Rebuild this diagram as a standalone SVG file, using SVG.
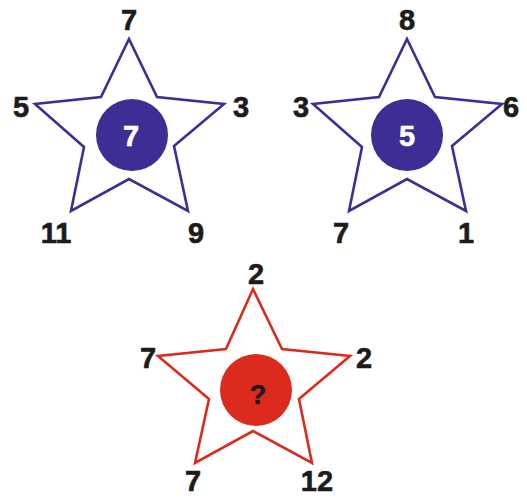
<svg xmlns="http://www.w3.org/2000/svg" width="527" height="498" viewBox="0 0 527 498">
<style>
.star{fill:#fff;stroke-width:2.6;stroke-linejoin:miter}
.blue{stroke:#3d2e96}
.red{stroke:#dc2b1d}
.lbl{font-family:"Liberation Sans",Arial,sans-serif;font-weight:bold;font-size:29px;fill:#1c1c1c;stroke:#1c1c1c;stroke-width:0.6;text-anchor:middle}
.in{fill:#fff;stroke:#fff}
</style>
<rect width="527" height="498" fill="#fff"/>
<g id="star1">
<polygon class="star blue" points="129,39 157,97 224,104 174,146 188,211 129,179 71,211 84,147 35,104 101,97"/>
<circle cx="132" cy="135" r="36" fill="#3d2e96"/>
<text class="lbl in" x="131" y="146">7</text>
<text class="lbl" x="129" y="30">7</text>
<text class="lbl" x="21" y="117">5</text>
<text class="lbl" x="241" y="117">3</text>
<text class="lbl" x="56" y="243">11</text>
<text class="lbl" x="196" y="243">9</text>
</g>
<g id="star2">
<polygon class="star blue" points="407,39 435,97 502,104 452,146 466,211 407,179 349,211 362,147 313,104 379,97"/>
<circle cx="407" cy="135" r="36" fill="#3d2e96"/>
<text class="lbl in" x="407" y="146">5</text>
<text class="lbl" x="407" y="30">8</text>
<text class="lbl" x="301" y="117">3</text>
<text class="lbl" x="511" y="117">6</text>
<text class="lbl" x="341" y="243">7</text>
<text class="lbl" x="466" y="243">1</text>
</g>
<g id="star3">
<polygon class="star red" points="253,289 282,349 350,356 299,399 312,463 253,431 195,463 209,399 158,356 226,349"/>
<circle cx="256" cy="390" r="36" fill="#dc2b1d"/>
<text class="lbl" x="258" y="404" style="font-size:27px">?</text>
<text class="lbl" x="256" y="284">2</text>
<text class="lbl" x="148" y="368">7</text>
<text class="lbl" x="364" y="368">2</text>
<text class="lbl" x="193" y="491">7</text>
<text class="lbl" x="317" y="491">12</text>
</g>
<g id="connectors"/>
</svg>
